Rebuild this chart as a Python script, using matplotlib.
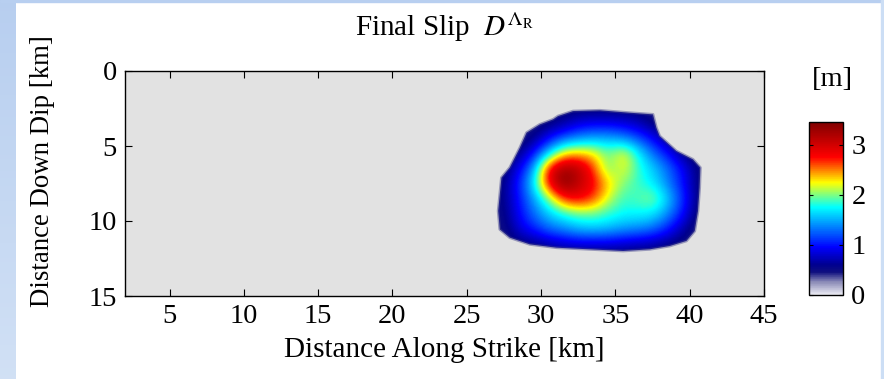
import numpy as np
import matplotlib
matplotlib.use("Agg")
import matplotlib.pyplot as plt
from matplotlib.colors import LinearSegmentedColormap, Normalize
from matplotlib.patches import Polygon, Rectangle
from matplotlib.cm import ScalarMappable

plt.rcParams['font.family'] = ['Liberation Serif', 'DejaVu Serif']
plt.rcParams['mathtext.fontset'] = 'stix'

# ---------------- data ----------------
# slip grid [m], cell centres: x = 26.5 .. 41.5 km, y = 2.5 .. 12.5 km (1 km cells)
patch_x_edges = [26.0, 42.0]
patch_y_edges = [2.0, 13.0]
slip_rows = [
    # 26.5 27.5 28.5 29.5 30.5 31.5 32.5 33.5 34.5 35.5 36.5 37.5 38.5 39.5 40.5 41.5
    [0.40, 0.40, 0.40, 0.40, 0.45, 0.50, 0.50, 0.50, 0.50, 0.50, 0.50, 0.45, 0.40, 0.40, 0.40, 0.40],  # 2.5
    [0.40, 0.40, 0.40, 0.45, 0.55, 0.65, 0.85, 0.90, 0.90, 0.85, 0.75, 0.55, 0.45, 0.40, 0.40, 0.40],  # 3.5
    [0.40, 0.40, 0.45, 0.60, 0.95, 1.25, 1.40, 1.50, 1.50, 1.40, 1.20, 0.95, 0.60, 0.45, 0.40, 0.40],  # 4.5
    [0.40, 0.45, 0.60, 1.00, 1.65, 2.30, 2.40, 2.30, 1.95, 2.30, 1.75, 1.30, 1.00, 0.60, 0.45, 0.40],  # 5.5
    [0.45, 0.50, 0.90, 1.45, 2.85, 3.30, 3.15, 2.65, 1.90, 2.25, 1.85, 1.60, 1.30, 0.95, 0.55, 0.45],  # 6.5
    [0.45, 0.60, 1.05, 1.70, 2.85, 3.45, 3.10, 2.80, 2.35, 2.00, 1.85, 1.70, 1.35, 1.00, 0.55, 0.45],  # 7.5
    [0.45, 0.60, 1.00, 1.45, 2.00, 2.70, 2.85, 2.65, 2.15, 1.85, 1.90, 2.05, 1.60, 1.10, 0.55, 0.45],  # 8.5
    [0.45, 0.55, 0.95, 1.30, 1.60, 1.80, 1.95, 1.95, 1.85, 1.75, 1.75, 1.70, 1.40, 1.00, 0.50, 0.45],  # 9.5
    [0.45, 0.50, 0.85, 1.05, 1.30, 1.40, 1.55, 1.60, 1.55, 1.45, 1.40, 1.30, 1.05, 0.70, 0.45, 0.40],  # 10.5
    [0.40, 0.40, 0.55, 0.60, 0.70, 0.80, 0.85, 0.85, 0.85, 0.80, 0.75, 0.70, 0.60, 0.50, 0.40, 0.40],  # 11.5
    [0.40, 0.40, 0.40, 0.40, 0.45, 0.45, 0.45, 0.45, 0.45, 0.45, 0.45, 0.45, 0.40, 0.40, 0.40, 0.40],  # 12.5
]

# outline of the slipping area [km]
outline_x = [31.14, 32.15, 33.95, 35.96, 37.53, 37.76, 37.98, 39.10, 40.22, 40.72, 40.67, 40.56,
             40.34, 39.78, 38.65, 37.31, 35.52, 33.27, 31.03, 29.24, 27.89, 27.22, 27.11, 27.22,
             27.33, 27.89, 28.57, 29.02, 29.91, 30.81]
outline_y = [3.00, 2.67, 2.62, 2.78, 2.89, 3.78, 4.33, 5.33, 5.89, 6.44, 7.78, 9.33,
             10.67, 11.33, 11.67, 11.89, 12.00, 11.89, 11.78, 11.56, 11.11, 10.56, 9.33, 8.22,
             7.11, 6.44, 5.11, 4.11, 3.56, 3.22]

xlim = [2, 45]
ylim = [15, 0]
xticks = [5, 10, 15, 20, 25, 30, 35, 40, 45]
yticks = [0, 5, 10, 15]
cbar_ticks = [0, 1, 2, 3]
slip_max = 3.45

# colormap anchors (slip value, colour)
cmap_values = [0.0, 0.25, 0.45, 0.60, 0.95, 1.75, 2.00, 2.24, 2.75, 3.45]
cmap_colors = [(0.93, 0.93, 0.96), (0.55, 0.55, 0.72), (0.06, 0.06, 0.50), (0.0, 0.0, 0.56),
               (0.0, 0.0, 1.0), (0.0, 1.0, 1.0), (0.5, 1.0, 0.5), (1.0, 1.0, 0.0),
               (1.0, 0.0, 0.0), (0.5, 0.0, 0.0)]

# ---------------- figure ----------------
W, H = 884, 379
FS = 20.5
fig = plt.figure(figsize=(W / 100, H / 100), dpi=100)

# light blue frame
band = fig.add_axes([0, 0, 16 / W, 1])
grad = np.linspace(0, 1, 100)[:, None]
band_cmap = LinearSegmentedColormap.from_list('band', [(0.72, 0.81, 0.94), (0.82, 0.88, 0.96)])
band.imshow(grad, aspect='auto', cmap=band_cmap, extent=[0, 1, 0, 1], origin='upper')
band.axis('off')
fig.patches.append(Rectangle((0, 1 - 2 / H), 1, 2 / H, transform=fig.transFigure,
                             color=(0.72, 0.81, 0.94), zorder=0))
fig.patches.append(Rectangle((1 - 3 / W, 0), 3 / W, 1, transform=fig.transFigure,
                             color=(0.80, 0.87, 0.96), zorder=0))

cmap = LinearSegmentedColormap.from_list(
    'slip', [(v / slip_max, c) for v, c in zip(cmap_values, cmap_colors)])
norm = Normalize(vmin=0, vmax=slip_max)

ax = fig.add_axes([125 / W, 1 - 296 / H, (764 - 125) / W, (296 - 71) / H])
ax.set_facecolor((0.886, 0.886, 0.886))
slip = np.array(slip_rows)
im = ax.imshow(slip, cmap=cmap, norm=norm, interpolation='bicubic',
               extent=[patch_x_edges[0], patch_x_edges[1], patch_y_edges[1], patch_y_edges[0]],
               origin='upper', aspect='auto')
poly = Polygon(np.column_stack([outline_x, outline_y]), closed=True,
               facecolor='none', edgecolor='none', transform=ax.transData)
ax.add_patch(poly)
im.set_clip_path(poly)
# soft rim of the slipping area
ax.add_patch(Polygon(np.column_stack([outline_x, outline_y]), closed=True,
                     facecolor='none', edgecolor=(0.25, 0.25, 0.55), linewidth=2.0,
                     alpha=0.45, joinstyle='round'))

ax.set_xlim(xlim)
ax.set_ylim(ylim)
ax.set_xticks(xticks)
ax.set_yticks(yticks)
ax.tick_params(direction='in', top=True, right=True, length=5, width=0.8,
               labelsize=FS, pad=6)
for s in ax.spines.values():
    s.set_linewidth(1.0)
ax.set_xlabel('Distance Along Strike [km]', fontsize=FS + 0.5)
ax.xaxis.set_label_coords(0.5, -(350 - 296) / 225)
ax.xaxis.label.set_va('center')
ax.set_ylabel('Distance Down Dip [km]', fontsize=19.3)
ax.yaxis.set_label_coords(-(125 - 42) / 639, (296 - 171) / 225)
ax.yaxis.label.set_va('center')
ax.set_title(r'Final Slip  $D^{\Lambda_{\mathrm{R}}}$', fontsize=FS + 0.5, pad=25)

cax = fig.add_axes([809 / W, 1 - 295 / H, 34 / W, (295 - 122) / H])
cb = fig.colorbar(ScalarMappable(norm=norm, cmap=cmap), cax=cax, ticks=cbar_ticks)
cb.outline.set_linewidth(1.0)
cax.tick_params(direction='in', left=True, right=True, length=3, width=0.8,
                labelsize=FS, pad=6)
cax.set_yticklabels([str(t) for t in cbar_ticks])
fig.text(832 / W, 1 - 80 / H, '[m]', ha='center', va='center', fontsize=FS)

fig.savefig('out.png', dpi=100)
